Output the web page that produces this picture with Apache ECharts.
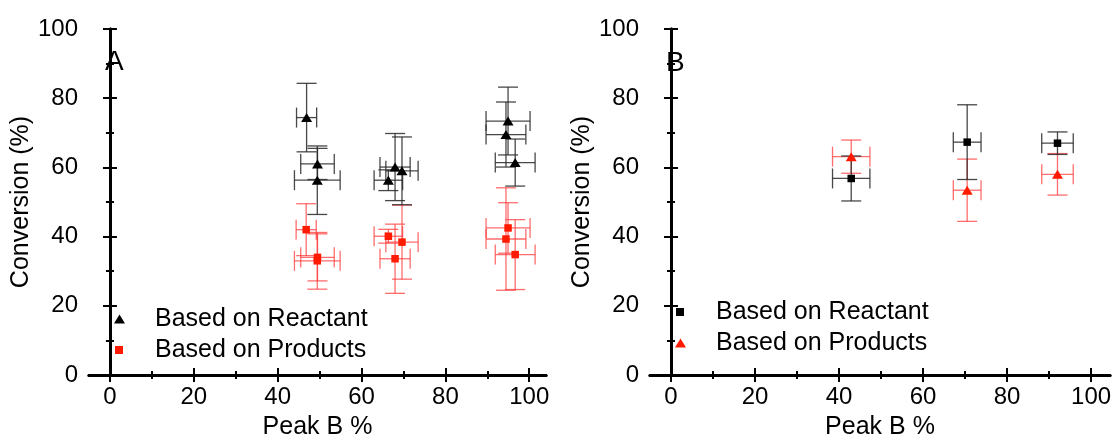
<!DOCTYPE html>
<html>
<head>
<meta charset="utf-8">
<script src="https://cdn.jsdelivr.net/npm/echarts@6/dist/echarts.min.js"></script>
<style>
html,body{margin:0;padding:0;background:#fff;}
#chart{width:1115px;height:445px;}
</style>
</head>
<body>
<div id="chart"></div>
<script>
// ---- tick labels ----
const xMajorTicks = [0, 20, 40, 60, 80, 100];
const xMinorTicks = [10, 30, 50, 70, 90];
const yMajorTicks = [0, 20, 40, 60, 80, 100];
const yMinorTicks = [10, 30, 50, 70, 90];
const seriesNames = ['Based on Reactant', 'Based on Products'];
const panelLabels = ['A', 'B'];
const xAxisTitle = 'Peak B %';
const yAxisTitle = 'Conversion (%)';

// ---- Panel A: Based on Reactant (triangles) ----
const aReactX    = [46.9, 49.5, 49.45, 66.4, 68.0, 69.65, 94.95, 94.45, 96.65];
const aReactY    = [74.4, 61.0, 56.3, 56.3, 60.1, 59.0, 73.4, 69.5, 61.4];
const aReactXErr = [2.4, 4.0, 5.45, 3.4, 3.6, 3.85, 5.25, 4.75, 4.75];
const aReactYErr = [9.9, 4.5, 9.9, 3.0, 9.7, 9.8, 9.8, 9.4, 6.8];
// ---- Panel A: Based on Products (squares) ----
const aProdX    = [46.8, 49.5, 49.45, 66.4, 68.0, 69.65, 94.95, 94.45, 96.65];
const aProdY    = [42.0, 34.0, 33.0, 40.1, 33.6, 38.4, 42.5, 39.3, 34.8];
const aProdXErr = [2.4, 4.0, 5.45, 3.4, 3.6, 3.85, 5.25, 4.75, 4.75];
const aProdYErr = [7.5, 6.8, 8.2, 2.0, 10.0, 10.7, 7.3, 14.8, 10.1];

// ---- Panel B: Based on Reactant (squares) ----
const bReactX    = [42.9, 70.5, 92.0];
const bReactY    = [56.8, 67.3, 67.0];
const bReactXErr = [4.45, 3.3, 3.75];
const bReactYErr = [6.5, 10.8, 3.25];
// ---- Panel B: Based on Products (triangles) ----
const bProdX    = [42.9, 70.5, 92.0];
const bProdY    = [63.1, 53.4, 58.0];
const bProdXErr = [4.45, 3.3, 3.75];
const bProdYErr = [4.8, 9.0, 6.0];

const FONT = 'Liberation Sans, Arial, sans-serif';
const BLACK = '#000000';
const RED = '#ff1a00';
const BLACK_ERR = 'rgba(40,40,40,0.85)';
const RED_ERR = 'rgba(255,60,60,0.75)';
const CAP = 20;

const grids = [
  {left: 89, top: 29, width: 457, height: 346},
  {left: 650, top: 29, width: 460, height: 346}
];
const xRanges = [[-5, 104], [-5, 104.5]];

function zip4(a, b, c, d) { return a.map((v, i) => [v, b[i], c[i], d[i]]); }
function zip2(a, b) { return a.map((v, i) => [v, b[i]]); }

function makeXAxes(g) {
  const base = {gridIndex: g, type: 'value', min: xRanges[g][0], max: xRanges[g][1],
    splitLine: {show: false}};
  return [
    Object.assign({}, base, {position: 'bottom',
      axisLine: {show: true, lineStyle: {color: BLACK, width: 3}},
      axisTick: {show: true, inside: true, length: 7, lineStyle: {width: 2, color: BLACK}, customValues: xMajorTicks},
      axisLabel: {show: true, customValues: xMajorTicks, margin: 10, color: BLACK, fontSize: 24, fontFamily: FONT},
      name: xAxisTitle, nameLocation: 'middle', nameGap: 40,
      nameTextStyle: {color: BLACK, fontSize: 25, fontFamily: FONT}}),
    Object.assign({}, base, {position: 'bottom', axisLine: {show: false},
      axisTick: {show: true, inside: true, length: 4, lineStyle: {width: 2, color: BLACK}, customValues: xMinorTicks},
      axisLabel: {show: false}}),
    Object.assign({}, base, {position: 'top',
      axisLine: {show: true, lineStyle: {color: BLACK, width: 3}},
      axisTick: {show: true, inside: true, length: 7, lineStyle: {width: 2, color: BLACK}, customValues: xMajorTicks},
      axisLabel: {show: false}}),
    Object.assign({}, base, {position: 'top', axisLine: {show: false},
      axisTick: {show: true, inside: true, length: 4, lineStyle: {width: 2, color: BLACK}, customValues: xMinorTicks},
      axisLabel: {show: false}})
  ];
}
function makeYAxes(g) {
  const base = {gridIndex: g, type: 'value', min: 0, max: 100, splitLine: {show: false}};
  return [
    Object.assign({}, base, {position: 'left',
      axisLine: {show: true, lineStyle: {color: BLACK, width: 3}},
      axisTick: {show: true, inside: true, length: 7, lineStyle: {width: 2, color: BLACK}, customValues: yMajorTicks},
      axisLabel: {show: true, customValues: yMajorTicks, margin: 11, color: BLACK, fontSize: 24, fontFamily: FONT},
      name: yAxisTitle, nameLocation: 'middle', nameGap: 50, nameRotate: 90,
      nameTextStyle: {color: BLACK, fontSize: 25, fontFamily: FONT}}),
    Object.assign({}, base, {position: 'left', axisLine: {show: false},
      axisTick: {show: true, inside: true, length: 4, lineStyle: {width: 2, color: BLACK}, customValues: yMinorTicks},
      axisLabel: {show: false}}),
    Object.assign({}, base, {position: 'right',
      axisLine: {show: true, lineStyle: {color: BLACK, width: 3}},
      axisTick: {show: true, inside: true, length: 7, lineStyle: {width: 2, color: BLACK}, customValues: yMajorTicks},
      axisLabel: {show: false}}),
    Object.assign({}, base, {position: 'right', axisLine: {show: false},
      axisTick: {show: true, inside: true, length: 4, lineStyle: {width: 2, color: BLACK}, customValues: yMinorTicks},
      axisLabel: {show: false}})
  ];
}

function errSeries(g, data, color) {
  return {
    type: 'custom', xAxisIndex: g * 4, yAxisIndex: g * 4, silent: true, z: 2,
    encode: {x: 0, y: 1},
    data: data,
    renderItem: function (params, api) {
      const x = api.value(0), y = api.value(1), ex = api.value(2), ey = api.value(3);
      const l = api.coord([x - ex, y]), r = api.coord([x + ex, y]);
      const t = api.coord([x, y + ey]), b = api.coord([x, y - ey]);
      const h = CAP / 2;
      const st = {stroke: color, lineWidth: 1.3, fill: null};
      const ln = (x1, y1, x2, y2) => ({type: 'line', shape: {x1, y1, x2, y2}, style: st});
      return {type: 'group', children: [
        ln(l[0], l[1], r[0], r[1]),
        ln(l[0], l[1] - h, l[0], l[1] + h),
        ln(r[0], r[1] - h, r[0], r[1] + h),
        ln(t[0], t[1], b[0], b[1]),
        ln(t[0] - h, t[1], t[0] + h, t[1]),
        ln(b[0] - h, b[1], b[0] + h, b[1])
      ]};
    }
  };
}
function markSeries(g, name, data, color, symbol, size) {
  return {
    type: 'scatter', name: name, xAxisIndex: g * 4, yAxisIndex: g * 4, z: 5,
    symbol: symbol, symbolSize: size, data: data,
    itemStyle: {color: color, opacity: 1}
  };
}

function legendRow(name, icon, w, h, left, top, pad) {
  return {
    data: [{name: name, icon: icon}], left: left, top: top, orient: 'vertical',
    padding: 0, itemWidth: w, itemHeight: h, selectedMode: false,
    textStyle: {fontSize: 25, fontFamily: FONT, color: BLACK, lineHeight: 26, padding: [0, 0, 0, pad]}
  };
}

const option = {
  animation: false,
  backgroundColor: '#ffffff',
  title: [
    {text: panelLabels[0], left: 105, top: 48, padding: 0, textStyle: {fontSize: 28, fontWeight: 'normal', fontFamily: FONT, color: BLACK}},
    {text: panelLabels[1], left: 666, top: 49, padding: 0, textStyle: {fontSize: 28, fontWeight: 'normal', fontFamily: FONT, color: BLACK}}
  ],
  legend: [
    legendRow(seriesNames[0], 'triangle', 11, 9, 114, 306, 25),
    legendRow(seriesNames[1], 'rect', 8, 8, 115, 337, 27),
    legendRow(seriesNames[0], 'rect', 8, 8, 676, 299, 27),
    legendRow(seriesNames[1], 'triangle', 11, 9, 675, 330, 25)
  ],
  grid: grids.map(g => Object.assign({containLabel: false, outerBoundsMode: 'none'}, g)),
  xAxis: makeXAxes(0).concat(makeXAxes(1)),
  yAxis: makeYAxes(0).concat(makeYAxes(1)),
  series: [
    errSeries(0, zip4(aProdX, aProdY, aProdXErr, aProdYErr), RED_ERR),
    errSeries(0, zip4(aReactX, aReactY, aReactXErr, aReactYErr), BLACK_ERR),
    markSeries(0, seriesNames[1], zip2(aProdX, aProdY), RED, 'rect', 7.5),
    markSeries(0, seriesNames[0], zip2(aReactX, aReactY), BLACK, 'triangle', [11, 9]),
    errSeries(1, zip4(bProdX, bProdY, bProdXErr, bProdYErr), RED_ERR),
    errSeries(1, zip4(bReactX, bReactY, bReactXErr, bReactYErr), BLACK_ERR),
    markSeries(1, seriesNames[1], zip2(bProdX, bProdY), RED, 'triangle', [11, 9]),
    markSeries(1, seriesNames[0], zip2(bReactX, bReactY), BLACK, 'rect', 7.5)
  ]
};

const chart = echarts.init(document.getElementById('chart'), null, {renderer: 'canvas'});
chart.setOption(option);
</script>
</body>
</html>
